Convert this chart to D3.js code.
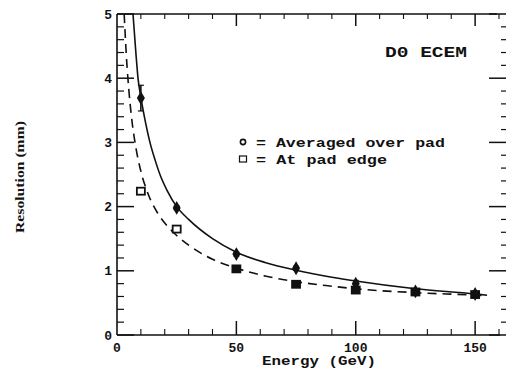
<!DOCTYPE html>
<html><head><meta charset="utf-8">
<script src="https://cdn.jsdelivr.net/npm/d3@7"></script>
<style>html,body{margin:0;padding:0;background:#fff;}svg{display:block;}</style>
</head><body>
<svg id="c" width="506" height="370"></svg>
<script>
// ---- data ----
const energies = [10, 25, 50, 75, 100, 125, 150];
const averagedOverPad = [3.69, 1.98, 1.26, 1.04, 0.80, 0.68, 0.64];
const averagedErr = [0.2, 0.03, 0.03, 0.03, 0.05, 0.03, 0.03];
const atPadEdge = [2.24, 1.65, 1.03, 0.79, 0.70, 0.67, 0.63];
// fitted curves (energy, resolution)
const fitAveragedE = [6.7, 8, 8.8, 10, 12, 13.8, 16, 18.4, 21, 25, 30, 40, 50, 62, 75, 90, 100, 125, 150, 155];
const fitAveragedR = [5.0, 4.35, 4.0, 3.7, 3.3, 3.0, 2.72, 2.46, 2.25, 2.0, 1.8, 1.5, 1.29, 1.13, 1.01, 0.9, 0.84, 0.72, 0.64, 0.62];
const fitEdgeE = [3.0, 4, 5, 6, 8, 10, 13, 17, 21, 25, 30, 40, 50, 62, 75, 90, 100, 125, 150, 155];
const fitEdgeR = [5.0, 4.3, 3.8, 3.42, 2.9, 2.55, 2.2, 1.9, 1.7, 1.55, 1.4, 1.18, 1.04, 0.92, 0.83, 0.76, 0.72, 0.66, 0.62, 0.61];
const xTicks = [0, 50, 100, 150];
const yTicks = [0, 1, 2, 3, 4, 5];
const labelTitle = "D0 ECEM";
const legendLabels = ["= Averaged over pad", "= At pad edge"];
const xTitle = "Energy (GeV)";
const yTitle = "Resolution (mm)";

// ---- chart ----
const svg = d3.select("#c");
const x = d3.scaleLinear().domain([0, 160]).range([117, 499]);
const y = d3.scaleLinear().domain([0, 5]).range([335, 14]);
const mono = "'Liberation Mono', 'DejaVu Sans Mono', monospace";
const ink = "#111";

// frame lines
const g = svg.append("g");
g.append("line").attr("x1", x(0)).attr("x2", x(0)).attr("y1", y(0)).attr("y2", y(5)).attr("stroke", ink).attr("stroke-width", 1.6);
g.append("line").attr("x1", x(0)).attr("x2", 500).attr("y1", y(0)).attr("y2", y(0)).attr("stroke", ink).attr("stroke-width", 1.6);
g.append("line").attr("x1", x(0)).attr("x2", 497).attr("y1", y(5)).attr("y2", y(5)).attr("stroke", ink).attr("stroke-width", 1.6);

// y axes (left inward, right ticks)
const yMinor = d3.range(0, 5.001, 0.2);
yMinor.forEach(v => {
  const major = Math.abs(v - Math.round(v)) < 1e-6;
  g.append("line").attr("x1", x(0)).attr("x2", x(0) + (major ? 17 : 7))
    .attr("y1", y(v)).attr("y2", y(v)).attr("stroke", ink).attr("stroke-width", major ? 1.5 : 1.2);
  g.append("line").attr("x1", 506).attr("x2", 506 - (major ? 17 : 5))
    .attr("y1", y(v)).attr("y2", y(v)).attr("stroke", ink).attr("stroke-width", major ? 1.5 : 1.2);
});
// x axes (bottom/top inward)
const xMinor = d3.range(0, 160.001, 10);
xMinor.forEach(v => {
  const major = v % 50 === 0 && v > 0;
  if (v === 0) return;
  g.append("line").attr("x1", x(v)).attr("x2", x(v)).attr("y1", y(0)).attr("y2", y(0) - (major ? 14 : 6))
    .attr("stroke", ink).attr("stroke-width", major ? 1.5 : 1.1);
  g.append("line").attr("x1", x(v)).attr("x2", x(v)).attr("y1", y(5)).attr("y2", y(5) + (major ? 12 : 5))
    .attr("stroke", ink).attr("stroke-width", major ? 1.5 : 1.1);
});

// tick labels
svg.append("g").selectAll("text").data(yTicks).join("text")
  .attr("x", 112).attr("y", d => y(d) + 4.5).attr("text-anchor", "end")
  .attr("font-family", mono).attr("font-weight", "bold").attr("font-size", 13).attr("fill", ink)
  .text(d => d);
svg.append("g").selectAll("text").data(xTicks).join("text")
  .attr("x", d => x(d)).attr("y", 352).attr("text-anchor", "middle")
  .attr("font-family", mono).attr("font-weight", "bold").attr("font-size", 13).attr("fill", ink)
  .text(d => d);

// titles
svg.append("text").attr("x", 262).attr("y", 365).attr("font-family", mono).attr("font-weight", "bold")
  .attr("font-size", 13).attr("textLength", 114).attr("lengthAdjust", "spacingAndGlyphs").attr("fill", ink).text(xTitle);
svg.append("text").attr("transform", "translate(24,177) rotate(-90)").attr("text-anchor", "middle")
  .attr("font-family", "'Liberation Serif', serif").attr("font-weight", "bold").attr("font-size", 12)
  .attr("textLength", 112).attr("lengthAdjust", "spacingAndGlyphs").attr("fill", ink).text(yTitle);

// curves
const line = d3.line().x(d => x(d[0])).y(d => y(d[1])).curve(d3.curveMonotoneX);
svg.append("path").datum(fitAveragedE.map((e, i) => [e, fitAveragedR[i]]))
  .attr("d", line).attr("fill", "none").attr("stroke", ink).attr("stroke-width", 1.6);
svg.append("path").datum(fitEdgeE.map((e, i) => [e, fitEdgeR[i]]))
  .attr("d", line).attr("fill", "none").attr("stroke", ink).attr("stroke-width", 1.6)
  .attr("stroke-dasharray", "9,6");

// error bars for averaged series
const eb = svg.append("g");
energies.forEach((e, i) => {
  const lo = averagedOverPad[i] - averagedErr[i], hi = averagedOverPad[i] + averagedErr[i];
  eb.append("line").attr("x1", x(e)).attr("x2", x(e)).attr("y1", y(lo)).attr("y2", y(hi)).attr("stroke", ink).attr("stroke-width", 1.6);
  eb.append("line").attr("x1", x(e) - 3).attr("x2", x(e) + 3).attr("y1", y(lo)).attr("y2", y(lo)).attr("stroke", ink).attr("stroke-width", 1.2);
  eb.append("line").attr("x1", x(e) - 3).attr("x2", x(e) + 3).attr("y1", y(hi)).attr("y2", y(hi)).attr("stroke", ink).attr("stroke-width", 1.2);
});

// markers: at pad edge squares
svg.append("g").selectAll("rect").data(energies).join("rect")
  .attr("x", d => x(d) - 4).attr("y", (d, i) => y(atPadEdge[i]) - 3.5)
  .attr("width", 8).attr("height", 7)
  .attr("fill", d => d < 30 ? "#fff" : ink).attr("stroke", ink).attr("stroke-width", 1.8);
// averaged diamonds
svg.append("g").selectAll("path").data(energies).join("path")
  .attr("transform", (d, i) => `translate(${x(d)},${y(averagedOverPad[i])})`)
  .attr("d", d3.symbol().type(d3.symbolDiamond).size(56)).attr("fill", ink);

// annotation and legend
svg.append("text").attr("x", 385).attr("y", 57).attr("font-family", mono).attr("font-weight", "bold")
  .attr("font-size", 14).attr("textLength", 82).attr("lengthAdjust", "spacingAndGlyphs").attr("fill", ink).text(labelTitle);
svg.append("circle").attr("cx", 243).attr("cy", 142).attr("r", 2.6).attr("fill", "none").attr("stroke", ink).attr("stroke-width", 1.6);
svg.append("rect").attr("x", 239.5).attr("y", 156).attr("width", 7).attr("height", 6).attr("fill", "none").attr("stroke", ink).attr("stroke-width", 1.2);
svg.append("text").attr("x", 256).attr("y", 147).attr("font-family", mono).attr("font-weight", "bold")
  .attr("font-size", 13).attr("textLength", 189).attr("lengthAdjust", "spacingAndGlyphs").attr("fill", ink).text(legendLabels[0]);
svg.append("text").attr("x", 256).attr("y", 164).attr("font-family", mono).attr("font-weight", "bold")
  .attr("font-size", 13).attr("textLength", 131).attr("lengthAdjust", "spacingAndGlyphs").attr("fill", ink).text(legendLabels[1]);
</script>
</body></html>
